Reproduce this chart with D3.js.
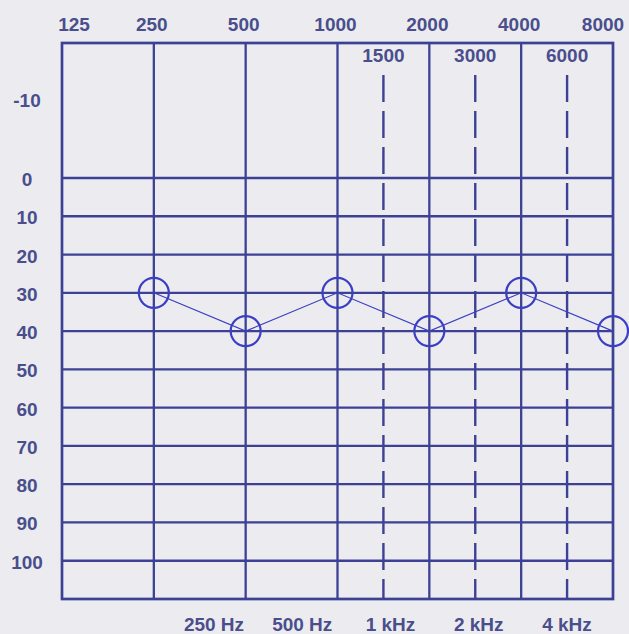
<!DOCTYPE html>
<html>
<head>
<meta charset="utf-8">
<script src="https://cdn.jsdelivr.net/npm/d3@7"></script>
<style>
  html, body { margin: 0; padding: 0; background: #ececf0; }
  svg { display: block; }
  text { font-family: "Liberation Sans", Arial, sans-serif; font-weight: bold; fill: #4a4e8c; }
</style>
</head>
<body>
<svg id="chart" width="629" height="634"></svg>
<script>
// ---- data ----
const octaveFreqs = [125, 250, 500, 1000, 2000, 4000, 8000];
const midFreqs = [1500, 3000, 6000];
const levelTicks = [0, 10, 20, 30, 40, 50, 60, 70, 80, 90, 100];
const topLevelLabel = -10;
const bottomLabels = ["250 Hz", "500 Hz", "1 kHz", "2 kHz", "4 kHz"];
const testFreqs = [250, 500, 1000, 2000, 4000, 8000];
const thresholds = [30, 40, 30, 40, 30, 40];

// ---- layout ----
const svg = d3.select("#chart");
const gridColor = "#3d4195";
const inkColor = "#3b3fc4";
const gL = 62, gR = 613, gT = 43, gB = 599;
const fs = 19;

const x = d3.scalePoint().domain(octaveFreqs).range([gL, gR]);
const xf = f => octaveFreqs.includes(f) ? x(f) : (x(f / 1.5) + x(f * 4 / 3)) / 2;
const y = d3.scaleLinear().domain([-17, 0, 110]).range([gT, 178, gB]);
const xb = d3.scalePoint().domain(bottomLabels).range([214, 567]);

// horizontal grid lines
svg.append("g").selectAll("line").data(levelTicks).join("line")
  .attr("x1", gL).attr("x2", gR)
  .attr("y1", d => y(d)).attr("y2", d => y(d))
  .attr("stroke", gridColor).attr("stroke-width", 2.3);

// vertical octave lines (inner)
svg.append("g").selectAll("line").data(octaveFreqs.slice(1, -1)).join("line")
  .attr("x1", d => x(d)).attr("x2", d => x(d))
  .attr("y1", gT).attr("y2", gB)
  .attr("stroke", gridColor).attr("stroke-width", 2.3);

// dashed mid-octave lines
svg.append("g").selectAll("line").data(midFreqs).join("line")
  .attr("x1", d => xf(d)).attr("x2", d => xf(d))
  .attr("y1", 75).attr("y2", gB)
  .attr("stroke", gridColor).attr("stroke-width", 2.4)
  .attr("stroke-dasharray", "27,9");

// border
svg.append("rect").attr("x", gL).attr("y", gT)
  .attr("width", gR - gL).attr("height", gB - gT)
  .attr("fill", "none").attr("stroke", gridColor).attr("stroke-width", 2.7);

// top frequency labels
svg.append("g").selectAll("text").data(octaveFreqs).join("text")
  .attr("x", d => Math.min(Math.max(x(d) - 2, gL + 12), gR - 10))
  .attr("y", 31).attr("text-anchor", "middle").attr("font-size", fs)
  .text(d => d);

// mid-octave labels
svg.append("g").selectAll("text").data(midFreqs).join("text")
  .attr("x", d => xf(d)).attr("y", 62)
  .attr("text-anchor", "middle").attr("font-size", fs)
  .text(d => d);

// level labels
svg.append("g").selectAll("text").data([topLevelLabel].concat(levelTicks)).join("text")
  .attr("x", 27).attr("y", d => y(d) + 8)
  .attr("text-anchor", "middle").attr("font-size", fs)
  .text(d => d);

// bottom labels
svg.append("g").selectAll("text").data(bottomLabels).join("text")
  .attr("x", d => xb(d)).attr("y", 631)
  .attr("text-anchor", "middle").attr("font-size", fs)
  .text(d => d);

// threshold line and symbols
const pts = testFreqs.map((f, i) => [x(f), y(thresholds[i])]);
svg.append("path")
  .attr("d", d3.line()(pts))
  .attr("fill", "none").attr("stroke", inkColor).attr("stroke-width", 1.2);
svg.append("g").selectAll("circle").data(pts).join("circle")
  .attr("cx", d => d[0]).attr("cy", d => d[1]).attr("r", 15)
  .attr("fill", "none").attr("stroke", inkColor).attr("stroke-width", 2.2);
</script>
</body>
</html>
